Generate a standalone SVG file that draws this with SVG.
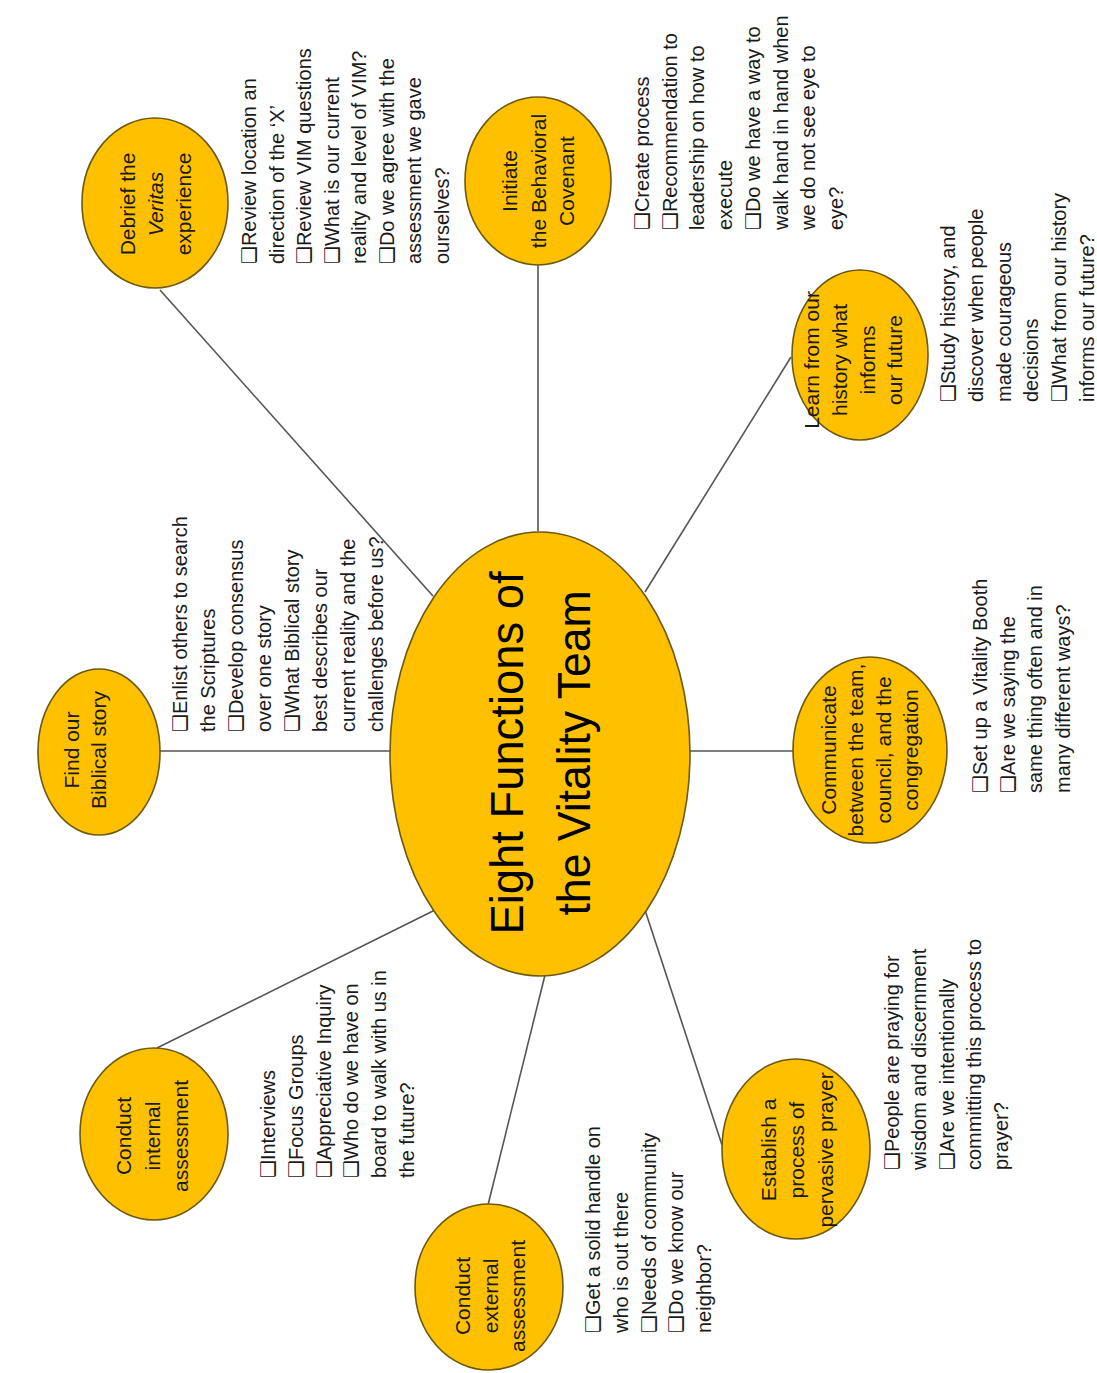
<svg xmlns="http://www.w3.org/2000/svg" width="1097" height="1373" viewBox="0 0 1097 1373">
<style>
.bg{fill:#ffffff}
.node{fill:#FFC000;stroke:#6b5a10;stroke-width:1.6}
.conn line{stroke:#555555;stroke-width:1.6}
.lbl{font-family:"Liberation Sans",Arial,sans-serif;font-size:21px;fill:#1a1a1a;text-anchor:middle}
.chk{font-family:"Liberation Sans","DejaVu Sans",Arial,sans-serif;font-size:20px;fill:#1a1a1a}
.title{font-family:"Liberation Sans",Arial,sans-serif;font-size:47px;fill:#000;text-anchor:middle}
</style>
<rect class="bg" x="0" y="0" width="1097" height="1373"/>

<g id="connectors" class="conn">
  <line x1="160" y1="290" x2="433" y2="596"/>
  <line x1="538" y1="265" x2="538" y2="531"/>
  <line x1="791" y1="357" x2="645" y2="592"/>
  <line x1="160" y1="751" x2="391" y2="751"/>
  <line x1="689" y1="751" x2="793" y2="751"/>
  <line x1="157" y1="1048" x2="435" y2="910"/>
  <line x1="488" y1="1205" x2="545" y2="975"/>
  <line x1="645" y1="910" x2="722" y2="1145"/>
</g>

<g id="center">
  <ellipse class="node" cx="540" cy="754" rx="150" ry="222"/>
  <g transform="translate(523,753) rotate(-90)">
    <text class="title" x="0" y="0" textLength="363" lengthAdjust="spacingAndGlyphs">Eight Functions of</text>
    <text class="title" x="0" y="67" textLength="325" lengthAdjust="spacingAndGlyphs">the Vitality Team</text>
  </g>
</g>

<g id="debrief">
  <ellipse class="node" cx="155" cy="203" rx="73" ry="85"/>
  <g transform="translate(135,204) rotate(-90)">
    <text class="lbl" x="0" y="0">Debrief the</text>
    <text class="lbl" x="0" y="28" font-style="italic">Veritas</text>
    <text class="lbl" x="0" y="56">experience</text>
  </g>
  <g transform="translate(256,264) rotate(-90)">
    <text class="chk" x="0" y="0">❑Review location an</text>
    <text class="chk" x="0" y="27.5">direction of the ‘X’</text>
    <text class="chk" x="0" y="55">❑Review VIM questions</text>
    <text class="chk" x="0" y="82.5">❑What is our current</text>
    <text class="chk" x="0" y="110">reality and level of VIM?</text>
    <text class="chk" x="0" y="137.5">❑Do we agree with the</text>
    <text class="chk" x="0" y="165">assessment we gave</text>
    <text class="chk" x="0" y="192.5">ourselves?</text>
  </g>
</g>

<g id="initiate">
  <ellipse class="node" cx="538" cy="181" rx="73" ry="84"/>
  <g transform="translate(517,181) rotate(-90)">
    <text class="lbl" x="0" y="0">Initiate</text>
    <text class="lbl" x="0" y="29">the Behavioral</text>
    <text class="lbl" x="0" y="57">Covenant</text>
  </g>
  <g transform="translate(649,230) rotate(-90)">
    <text class="chk" x="0" y="0">❑Create process</text>
    <text class="chk" x="0" y="27.7">❑Recommendation to</text>
    <text class="chk" x="0" y="55.4">leadership on how to</text>
    <text class="chk" x="0" y="83.1">execute</text>
    <text class="chk" x="0" y="110.8">❑Do we have a way to</text>
    <text class="chk" x="0" y="138.5">walk hand in hand when</text>
    <text class="chk" x="0" y="166.2">we do not see eye to</text>
    <text class="chk" x="0" y="193.9">eye?</text>
  </g>
</g>

<g id="learn">
  <ellipse class="node" cx="860" cy="355" rx="68" ry="85"/>
  <g transform="translate(819,360) rotate(-90)">
    <text class="lbl" x="0" y="0">Learn from our</text>
    <text class="lbl" x="0" y="28">history what</text>
    <text class="lbl" x="0" y="56">informs</text>
    <text class="lbl" x="0" y="83">our future</text>
  </g>
  <g transform="translate(955,402) rotate(-90)">
    <text class="chk" x="0" y="0">❑Study history, and</text>
    <text class="chk" x="0" y="27.8">discover when people</text>
    <text class="chk" x="0" y="55.6">made courageous</text>
    <text class="chk" x="0" y="83.4">decisions</text>
    <text class="chk" x="0" y="111.2">❑What from our history</text>
    <text class="chk" x="0" y="139">informs our future?</text>
  </g>
</g>

<g id="biblical">
  <ellipse class="node" cx="99" cy="752" rx="61" ry="83"/>
  <g transform="translate(79,750) rotate(-90)">
    <text class="lbl" x="0" y="0">Find our</text>
    <text class="lbl" x="0" y="27">Biblical story</text>
  </g>
  <g transform="translate(187,732) rotate(-90)">
    <text class="chk" x="0" y="0">❑Enlist others to search</text>
    <text class="chk" x="0" y="28">the Scriptures</text>
    <text class="chk" x="0" y="56">❑Develop consensus</text>
    <text class="chk" x="0" y="84">over one story</text>
    <text class="chk" x="0" y="112">❑What Biblical story</text>
    <text class="chk" x="0" y="140">best describes our</text>
    <text class="chk" x="0" y="168">current reality and the</text>
    <text class="chk" x="0" y="196">challenges before us?</text>
  </g>
</g>

<g id="communicate">
  <ellipse class="node" cx="870" cy="750" rx="77" ry="93"/>
  <g transform="translate(836,750) rotate(-90)">
    <text class="lbl" x="0" y="0">Communicate</text>
    <text class="lbl" x="0" y="27">between the team,</text>
    <text class="lbl" x="0" y="55">council, and the</text>
    <text class="lbl" x="0" y="82">congregation</text>
  </g>
  <g transform="translate(987,793) rotate(-90)">
    <text class="chk" x="0" y="0">❑Set up a Vitality Booth</text>
    <text class="chk" x="0" y="27.5">❑Are we saying the</text>
    <text class="chk" x="0" y="55">same thing often and in</text>
    <text class="chk" x="0" y="82.5">many different ways?</text>
  </g>
</g>

<g id="internal">
  <ellipse class="node" cx="154" cy="1134" rx="74" ry="86"/>
  <g transform="translate(131,1136) rotate(-90)">
    <text class="lbl" x="0" y="0">Conduct</text>
    <text class="lbl" x="0" y="29">internal</text>
    <text class="lbl" x="0" y="57">assessment</text>
  </g>
  <g transform="translate(275,1178) rotate(-90)">
    <text class="chk" x="0" y="0">❑Interviews</text>
    <text class="chk" x="0" y="27.8">❑Focus Groups</text>
    <text class="chk" x="0" y="55.6">❑Appreciative Inquiry</text>
    <text class="chk" x="0" y="83.4">❑Who do we have on</text>
    <text class="chk" x="0" y="111.2">board to walk with us in</text>
    <text class="chk" x="0" y="139">the future?</text>
  </g>
</g>

<g id="external">
  <ellipse class="node" cx="489" cy="1287" rx="74" ry="83"/>
  <g transform="translate(470,1296) rotate(-90)">
    <text class="lbl" x="0" y="0">Conduct</text>
    <text class="lbl" x="0" y="28">external</text>
    <text class="lbl" x="0" y="55">assessment</text>
  </g>
  <g transform="translate(600,1333) rotate(-90)">
    <text class="chk" x="0" y="0">❑Get a solid handle on</text>
    <text class="chk" x="0" y="27.8">who is out there</text>
    <text class="chk" x="0" y="55.6">❑Needs of community</text>
    <text class="chk" x="0" y="83.4">❑Do we know our</text>
    <text class="chk" x="0" y="111.2">neighbor?</text>
  </g>
</g>

<g id="prayer">
  <ellipse class="node" cx="796" cy="1149" rx="74" ry="90"/>
  <g transform="translate(776,1150) rotate(-90)">
    <text class="lbl" x="0" y="0">Establish a</text>
    <text class="lbl" x="0" y="28">process of</text>
    <text class="lbl" x="0" y="57">pervasive prayer</text>
  </g>
  <g transform="translate(899,1170) rotate(-90)">
    <text class="chk" x="0" y="0">❑People are praying for</text>
    <text class="chk" x="0" y="27.3">wisdom and discernment</text>
    <text class="chk" x="0" y="54.6">❑Are we intentionally</text>
    <text class="chk" x="0" y="81.9">committing this process to</text>
    <text class="chk" x="0" y="109.2">prayer?</text>
  </g>
</g>
</svg>
